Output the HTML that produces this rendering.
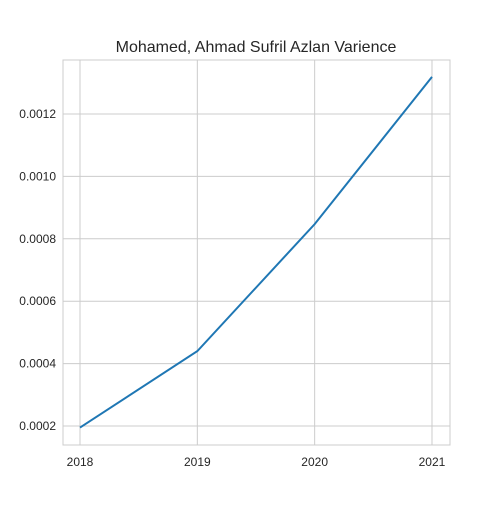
<!DOCTYPE html>
<html><head><meta charset="utf-8"><style>
body{margin:0;background:#fff;font-family:"Liberation Sans","DejaVu Sans",sans-serif;}
</style></head><body>
<svg width="500" height="500" xmlns="http://www.w3.org/2000/svg">
<g id="grid"></g>
<rect x="63" y="60" width="387" height="385" fill="none" stroke="#cccccc" stroke-width="1"/>
<g id="ticks"></g>
<path id="line" fill="none" stroke="#1f77b4" stroke-width="2"/>
<text x="256" y="52" text-anchor="middle" font-size="16" fill="#262626">Mohamed, Ahmad Sufril Azlan Varience</text>
</svg>
<script>
const years=[2018,2019,2020,2021];
const variance=[0.000195,0.00044,0.000847,0.001319];
const yTicks=[0.0002,0.0004,0.0006,0.0008,0.0010,0.0012];
const yTickLabels=["0.0002","0.0004","0.0006","0.0008","0.0010","0.0012"];
const xs=y=>80+(y-2018)*117.33;
const ys=v=>426-(v-0.0002)*312000;
const ns="http://www.w3.org/2000/svg";
const grid=document.getElementById('grid'),ticks=document.getElementById('ticks');
function mk(t,a,p){const e=document.createElementNS(ns,t);for(const k in a)e.setAttribute(k,a[k]);p.appendChild(e);return e;}
years.forEach(y=>{
 const l=mk('line',{x1:xs(y),x2:xs(y),y1:60,y2:445,stroke:'#cccccc'},grid);
 
 
 const t=mk('text',{x:xs(y),y:466,'text-anchor':'middle','font-size':12,fill:'#262626'},ticks);
 t.textContent=y;
 
 
});
yTicks.forEach((v,i)=>{
 const l=mk('line',{x1:63,x2:450,y1:ys(v),y2:ys(v),stroke:'#cccccc'},grid);
 
 
 const t=mk('text',{x:56,y:ys(v)+4,'text-anchor':'end','font-size':12,fill:'#262626'},ticks);
 t.textContent=yTickLabels[i];
 
 
});
document.getElementById('line').setAttribute('d',years.map((y,i)=>(i?'L':'M')+xs(y)+','+ys(variance[i])).join(''));
</script>
</body></html>
